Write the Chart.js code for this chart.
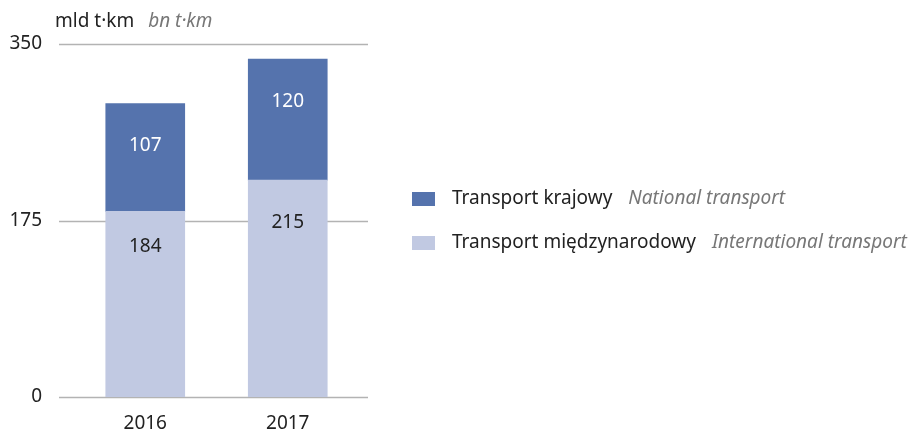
<!DOCTYPE html>
<html>
<head>
<meta charset="utf-8">
<script src="https://cdn.jsdelivr.net/npm/chart.js@4/dist/chart.umd.min.js"></script>
<style>
  body { margin: 0; background: #fff; font-family: "Noto Sans", sans-serif; }
  #wrap { position: relative; width: 922px; height: 429px; }
  canvas { position: absolute; left: 0; top: 0; }
  .txt { position: absolute; font-size: 19px; color: #222; white-space: nowrap; line-height: 22px; }
  .en { font-style: italic; color: #777; margin-left: 14px; }
  .sw { position: absolute; width: 23px; height: 14px; }
</style>
</head>
<body>
<div id="wrap">
  <canvas id="chart" width="922" height="429"></canvas>
  <div class="txt" style="left:55px; top:9px;">mld t·km<span class="en">bn t·km</span></div>
  <div id="legend"></div>
</div>
<script>
const years = ['2016', '2017'];
const international = [184, 215];
const national = [107, 120];
const yTicks = [0, 175, 350];
const seriesNames = [
  ['Transport krajowy', 'National transport'],
  ['Transport międzynarodowy', 'International transport']
];
const darkBlue = '#5573ad';
const lightBlue = '#c1c9e2';

// legend as html
const legend = document.getElementById('legend');
[darkBlue, lightBlue].forEach((color, i) => {
  const top = 188 + i * 44;
  legend.innerHTML += `<div class="sw" style="left:412px; top:${top + 4}px; background:${color}"></div>` +
    `<div class="txt" style="left:452px; top:${top - 2}px;">${seriesNames[i][0]}<span class="en" style="margin-left:16px">${seriesNames[i][1]}</span></div>`;
});

const gridLines = {
  id: 'gridLines',
  beforeDatasetsDraw(chart) {
    const ctx = chart.ctx;
    const y = chart.scales.y;
    ctx.save();
    ctx.strokeStyle = '#b3b3b3';
    ctx.lineWidth = 1.5;
    yTicks.forEach(t => {
      const py = Math.round(y.getPixelForValue(t)) + 0.5;
      ctx.beginPath();
      ctx.moveTo(59, py);
      ctx.lineTo(368, py);
      ctx.stroke();
    });
    ctx.restore();
  }
};

// value labels sit a bit below the top of each segment
const barLabels = {
  id: 'barLabels',
  afterDatasetsDraw(chart) {
    const ctx = chart.ctx;
    ctx.save();
    ctx.font = '19px "Noto Sans"';
    ctx.textAlign = 'center';
    ctx.textBaseline = 'middle';
    chart.data.datasets.forEach((ds, di) => {
      chart.getDatasetMeta(di).data.forEach((bar, i) => {
        const off = (di === 0 && i === 0) ? 35 : 42;
        ctx.fillStyle = di === 0 ? '#222' : '#fff';
        ctx.fillText(ds.data[i], bar.x, bar.y + off);
      });
    });
    ctx.restore();
  }
};

new Chart(document.getElementById('chart'), {
  type: 'bar',
  data: {
    labels: years,
    datasets: [
      { label: seriesNames[1][0], data: international, backgroundColor: lightBlue },
      { label: seriesNames[0][0], data: national, backgroundColor: darkBlue }
    ]
  },
  options: {
    responsive: false,
    animation: false,
    layout: { padding: { top: 44, right: 563, bottom: 0, left: 0 } },
    barThickness: 79,
    plugins: { legend: { display: false }, tooltip: { enabled: false } },
    scales: {
      x: {
        stacked: true,
        grid: { display: false, drawTicks: false },
        border: { display: false },
        ticks: { color: '#222', font: { family: 'Noto Sans', size: 19 }, padding: 15 },
        afterFit: (s) => { s.height = 32; s.paddingLeft = 0; s.paddingRight = 0; }
      },
      y: {
        stacked: true,
        min: 0,
        max: 350,
        afterBuildTicks: (s) => { s.ticks = yTicks.map(v => ({ value: v })); },
        grid: { display: false, drawTicks: false },
        border: { display: false },
        ticks: { color: '#222', font: { family: 'Noto Sans', size: 19 }, padding: 32 },
        afterFit: (s) => { s.width = 74; s.paddingTop = 0; s.paddingBottom = 0; }
      }
    }
  },
  plugins: [gridLines, barLabels]
});
</script>
</body>
</html>
